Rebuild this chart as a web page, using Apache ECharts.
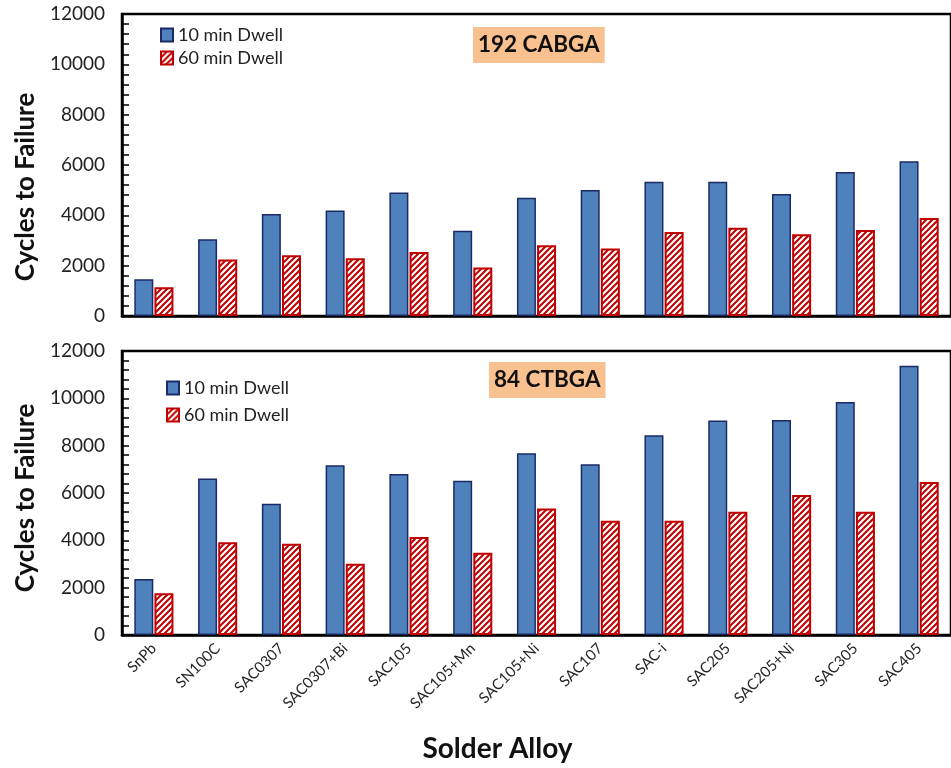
<!DOCTYPE html>
<html>
<head>
<meta charset="utf-8">
<script src="https://cdn.jsdelivr.net/npm/echarts@6/dist/echarts.min.js"></script>
<style>
html, body {margin:0; padding:0; background:#ffffff;}
#main {width:951px; height:768px;}
</style>
</head>
<body>
<div id="main"></div>
<script>
// 合金类别
var alloys = ['SnPb', 'SN100C', 'SAC0307', 'SAC0307+Bi', 'SAC105', 'SAC105+Mn', 'SAC105+Ni',
	'SAC107', 'SAC-i', 'SAC205', 'SAC205+Ni', 'SAC305', 'SAC405'];
// 192 CABGA
var cabga10 = [1460, 3050, 4050, 4190, 4910, 3390, 4700, 5010, 5330, 5330, 4850, 5720, 6150];
var cabga60 = [1140, 2250, 2410, 2290, 2540, 1930, 2810, 2680, 3340, 3510, 3250, 3420, 3890];
// 84 CTBGA
var ctbga10 = [2370, 6610, 5550, 7170, 6800, 6520, 7680, 7210, 8440, 9060, 9080, 9840, 11380];
var ctbga60 = [1760, 3920, 3860, 3010, 4140, 3480, 5340, 4830, 4830, 5210, 5920, 5210, 6460];
// y 轴刻度
var yTicks = [0, 2000, 4000, 6000, 8000, 10000, 12000];
var seriesNames = ['10 min Dwell', '60 min Dwell'];

var font = 'Lato';
var blue = '#4F81BD', navy = '#1B2A66', red = '#C00000';

// 斜线填充
function hatch() {
	var s = 6;
	var c = document.createElement('canvas');
	c.width = s; c.height = s;
	var ctx = c.getContext('2d');
	ctx.fillStyle = '#ffffff';
	ctx.fillRect(0, 0, s, s);
	ctx.strokeStyle = red;
	ctx.lineWidth = 2;
	ctx.beginPath();
	ctx.moveTo(-1, s + 1); ctx.lineTo(s + 1, -1);
	ctx.moveTo(-s / 2 - 1, s / 2 + 1); ctx.lineTo(s / 2 + 1, -s / 2 - 1);
	ctx.moveTo(s / 2 - 1, s * 1.5 + 1); ctx.lineTo(s * 1.5 + 1, s / 2 - 1);
	ctx.stroke();
	return {image: c, repeat: 'repeat'};
}
var hatchFill = hatch();

function xAxisOf(gridIndex, showLabel) {
	return {
		type: 'category',
		gridIndex: gridIndex,
		data: alloys,
		axisLine: {lineStyle: {color: '#000', width: 2.5}},
		axisTick: {show: false},
		axisLabel: {
			show: showLabel,
			interval: 0,
			rotate: 45,
			margin: 11,
			fontSize: 15,
			fontFamily: font,
			color: '#262626'
		},
		name: showLabel ? 'Solder Alloy' : '',
		nameLocation: 'middle',
		nameGap: 100,
		nameTextStyle: {fontSize: 28, fontWeight: 'bold', fontFamily: font, color: '#111',
			padding: [0, 78, 0, 0]}
	};
}

function yAxisOf(gridIndex, shift) {
	return {
		type: 'value',
		gridIndex: gridIndex,
		min: yTicks[0],
		max: yTicks[yTicks.length - 1],
		interval: yTicks[1] - yTicks[0],
		name: 'Cycles to Failure',
		nameLocation: 'middle',
		nameGap: 80,
		nameTextStyle: {fontSize: 26, fontWeight: 'bold', fontFamily: font, color: '#111',
			padding: [0, shift, 0, 0]},
		axisLine: {show: true, lineStyle: {color: '#000', width: 2.5}},
		axisTick: {show: true, inside: true, length: 7, lineStyle: {color: '#000', width: 1.5}},
		minorTick: {show: true, splitNumber: 5, length: 7, lineStyle: {color: '#000', width: 1.5}},
		splitLine: {show: false},
		axisLabel: {fontSize: 19, fontFamily: font, color: '#222', margin: 17,
			formatter: function (v) { return String(v); }}
	};
}

function barSeries(name, xi, data) {
	var isBlue = name == seriesNames[0];
	return {
		name: name,
		type: 'bar',
		xAxisIndex: xi,
		yAxisIndex: xi,
		data: data,
		barWidth: 19,
		barGap: '6%',
		itemStyle: isBlue
			? {color: blue, borderColor: navy, borderWidth: 1.5}
			: {color: hatchFill, borderColor: red, borderWidth: 2}
	};
}

var boxText = {fontSize: 22.5, lineHeight: 24, fontWeight: 'bold', fontFamily: font, color: '#111'};

var chart = echarts.init(document.getElementById('main'), null, {renderer: 'canvas'});
var option = {
	backgroundColor: '#ffffff',
	animation: false,
	title: [
		{
			text: '192 CABGA', left: 473, top: 27,
			backgroundColor: '#F9C090', padding: [6, 5, 6, 5],
			textStyle: boxText
		},
		{
			text: '84 CTBGA', left: 489, top: 362,
			backgroundColor: '#F9C090', padding: [6, 5, 6, 5],
			textStyle: boxText
		}
	],
	legend: [
		{
			data: seriesNames, orient: 'vertical', left: 155, top: 21,
			icon: 'rect', itemWidth: 12, itemHeight: 13, itemGap: 5,
			textStyle: {fontSize: 18, fontFamily: font, color: '#222'}
		},
		{
			data: seriesNames, orient: 'vertical', left: 161, top: 374,
			icon: 'rect', itemWidth: 12, itemHeight: 13, itemGap: 9,
			textStyle: {fontSize: 18, fontFamily: font, color: '#222'}
		}
	],
	grid: [
		{left: 122, top: 14, width: 835, height: 302, show: true, borderColor: '#000', borderWidth: 2.5},
		{left: 122, top: 351, width: 835, height: 284, show: true, borderColor: '#000', borderWidth: 2.5}
	],
	xAxis: [xAxisOf(0, false), xAxisOf(1, true)],
	yAxis: [yAxisOf(0, 44), yAxisOf(1, 10)],
	series: [
		barSeries(seriesNames[0], 0, cabga10),
		barSeries(seriesNames[1], 0, cabga60),
		barSeries(seriesNames[0], 1, ctbga10),
		barSeries(seriesNames[1], 1, ctbga60)
	]
};
chart.setOption(option);
</script>
</body>
</html>
